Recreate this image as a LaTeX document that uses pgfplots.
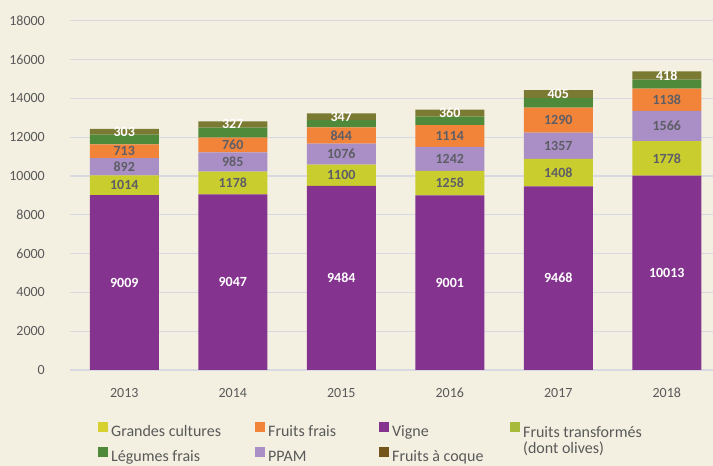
\documentclass[border=0pt]{standalone}
\usepackage{pgfplots}
\usepackage{pgfplotstable}
\pgfplotsset{compat=1.18}
\usepackage{fontspec}
\setmainfont{Carlito}
\definecolor{bg}{HTML}{F3F0E2}
\definecolor{cvigne}{HTML}{84338F}
\definecolor{cyel}{HTML}{C9CD2E}
\definecolor{cppam}{HTML}{A98FC5}
\definecolor{cff}{HTML}{F2843A}
\definecolor{cleg}{HTML}{4F8A3B}
\definecolor{ccoq}{HTML}{7B7A33}
\definecolor{lgc}{HTML}{D6D12E}
\definecolor{lft}{HTML}{A8BA3A}
\definecolor{lcoq}{HTML}{74561A}
\definecolor{gridc}{HTML}{D9D9E2}
\definecolor{txt}{HTML}{595959}
\definecolor{lbl}{HTML}{5E5E66}

\pgfplotstableread{
x vigne yel ppam ff leg coq
0 9009  1014 892  713  500 303
1 9047  1178 985  760  520 327
2 9484  1100 1076 844  370 347
3 9001  1258 1242 1114 440 360
4 9468  1408 1357 1290 490 405
5 10013 1778 1566 1138 470 418
}\data
% label positions: middle of each segment
\pgfplotstablecreatecol[create col/expr={\thisrow{vigne}/2}]{cv}\data
\pgfplotstablecreatecol[create col/expr={\thisrow{vigne}+\thisrow{yel}/2}]{cy}\data
\pgfplotstablecreatecol[create col/expr={\thisrow{vigne}+\thisrow{yel}+\thisrow{ppam}/2}]{cp}\data
\pgfplotstablecreatecol[create col/expr={\thisrow{vigne}+\thisrow{yel}+\thisrow{ppam}+\thisrow{ff}/2}]{cf}\data
\pgfplotstablecreatecol[create col/expr={\thisrow{vigne}+\thisrow{yel}+\thisrow{ppam}+\thisrow{ff}+\thisrow{leg}+\thisrow{coq}/2}]{cc}\data

\pgfplotsset{
  common/.style={
    at={(70pt,96pt)}, anchor=south west,
    scale only axis, width=643pt, height=349.3pt,
    xmin=-0.5, xmax=5.426, ymin=0, ymax=18000,
  },
  lab/.style={draw=none, mark=none, nodes near coords, point meta=explicit symbolic,
    every node near coord/.append style={font=\fontsize{14}{16}\selectfont\bfseries, text=#1, anchor=center, inner sep=0pt}},
}

\begin{document}
\begin{tikzpicture}
\fill[bg] (0,0) rectangle (713pt,466pt);
\useasboundingbox (0,0) rectangle (713pt,466pt);
\begin{axis}[
  common,
  ybar stacked, bar width=69pt,
  axis x line*=bottom, axis y line*=left,
  y axis line style={draw=none},
  x axis line style={draw=gridc, line width=1.5pt},
  major tick length=0pt,
  xtick={0,1,2,3,4,5},
  xticklabels={2013,2014,2015,2016,2017,2018},
  ytick distance=2000,
  scaled y ticks=false,
  ymajorgrids,
  grid style={draw=gridc, line width=1.2pt},
  /pgf/number format/1000 sep={},
  /pgf/number format/assume math mode=true,
  tick label style={font=\fontsize{14}{16}\selectfont, text=txt, inner sep=0pt},
  xticklabel shift=18pt,
  yticklabel shift=25pt,
  legend image code/.code={\fill[#1] (0pt,-0.5pt) rectangle (10pt,9.5pt); \path (13pt,0pt);},
  legend columns=4,
  legend cell align=left,
  legend style={at={(axis description cs:0.0435,-0.148)}, anchor=north west,
    draw=none, fill=none, inner sep=0pt, column sep=0pt, row sep=8.5pt,
    font=\fontsize{16}{18.5}\selectfont, text=txt, nodes={inner sep=0pt}},
]
\addplot[fill=cvigne, draw=none, forget plot] table[x=x,y=vigne]{\data};
\addplot[fill=cyel, draw=none, forget plot] table[x=x,y=yel]{\data};
\addplot[fill=cppam, draw=none, forget plot] table[x=x,y=ppam]{\data};
\addplot[fill=cff, draw=none, forget plot] table[x=x,y=ff]{\data};
\addplot[fill=cleg, draw=none, forget plot] table[x=x,y=leg]{\data};
\addplot[fill=ccoq, draw=none, forget plot] table[x=x,y=coq]{\data};

\addlegendimage{fill=lgc, draw=none}
\addlegendentry{\makebox[144pt][l]{Grandes cultures}}
\addlegendimage{fill=cff, draw=none}
\addlegendentry{\makebox[111pt][l]{Fruits frais}}
\addlegendimage{fill=cvigne, draw=none}
\addlegendentry{\makebox[118pt][l]{Vigne}}
\addlegendimage{fill=lft, draw=none}
\addlegendentry{\makebox[130pt][l]{\raisebox{0pt}[\height][0pt]{\begin{tabular}[t]{@{}l@{}}Fruits transformés\\[-2pt](dont olives)\end{tabular}}}}
\addlegendimage{fill=cleg, draw=none}
\addlegendentry{Légumes frais}
\addlegendimage{fill=cppam, draw=none}
\addlegendentry{PPAM}
\addlegendimage{fill=lcoq, draw=none}
\addlegendentry{Fruits à coque}
\end{axis}
\begin{axis}[common, hide axis, clip=false]
\addplot[lab=white] table[x=x,y=cv,meta=vigne]{\data};
\addplot[lab=lbl] table[x=x,y=cy,meta=yel]{\data};
\addplot[lab=lbl] table[x=x,y=cp,meta=ppam]{\data};
\addplot[lab=lbl] table[x=x,y=cf,meta=ff]{\data};
\addplot[lab=white] table[x=x,y=cc,meta=coq]{\data};
\end{axis}
\end{tikzpicture}
\end{document}
